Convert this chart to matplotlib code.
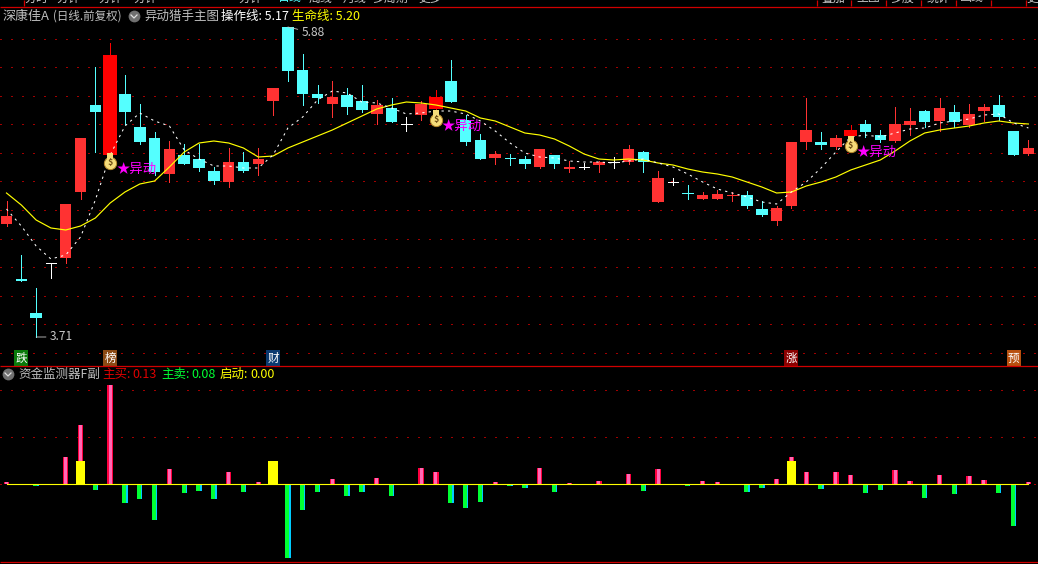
import numpy as np
import matplotlib
matplotlib.use("Agg")
import matplotlib.pyplot as plt

plt.rcParams['font.family'] = ['Noto Sans CJK SC', 'DejaVu Sans']

opens = [4.502,4.117,3.879,4.229,4.264,4.726,5.335,4.985,5.412,5.181,5.104,4.852,4.985,4.957,4.873,4.796,4.936,4.922,5.363,5.881,
         5.58,5.412,5.342,5.405,5.363,5.272,5.314,5.202,5.265,5.307,5.503,5.23,5.09,4.964,4.967,4.957,4.901,4.985,4.887,4.901,
         4.915,4.936,4.936,5.006,4.656,4.796,4.723,4.677,4.677,4.702,4.705,4.607,4.523,4.628,5.076,5.076,5.041,5.118,5.202,5.125,
         5.083,5.195,5.293,5.223,5.286,5.195,5.293,5.335,5.153,4.992]
closes = [4.558,4.103,3.844,4.229,4.642,5.104,5.286,5.685,5.286,5.076,4.866,5.027,4.922,4.894,4.803,4.936,4.873,4.957,5.454,5.573,
          5.412,5.384,5.391,5.321,5.3,5.335,5.216,5.202,5.342,5.391,5.356,5.076,4.957,4.992,4.96,4.922,5.027,4.922,4.901,4.901,
          4.936,4.936,5.027,4.936,4.824,4.796,4.716,4.705,4.712,4.705,4.628,4.565,4.614,5.076,5.16,5.055,5.104,5.16,5.146,5.09,
          5.202,5.223,5.216,5.314,5.216,5.272,5.321,5.251,4.985,5.034]
highs = [4.663,4.285,4.054,4.229,4.642,5.104,5.601,5.769,5.545,5.342,5.146,5.083,5.062,5.062,4.901,5.034,5.006,5.034,5.454,5.881,
         5.692,5.475,5.503,5.454,5.475,5.37,5.384,5.251,5.363,5.44,5.65,5.265,5.132,5.013,4.992,4.978,5.027,4.985,4.943,4.929,
         4.943,4.971,5.055,5.013,4.873,4.824,4.775,4.726,4.74,4.726,4.733,4.663,4.628,5.076,5.384,5.146,5.125,5.195,5.23,5.16,
         5.321,5.314,5.3,5.384,5.335,5.342,5.342,5.405,5.153,5.09]
lows = [4.488,4.103,3.711,4.124,4.229,4.677,5.006,4.985,5.202,5.062,4.845,4.796,4.922,4.873,4.782,4.761,4.866,4.845,5.265,5.503,
        5.335,5.349,5.251,5.272,5.286,5.202,5.216,5.153,5.23,5.307,5.356,5.055,4.957,4.922,4.915,4.894,4.894,4.894,4.866,4.887,
        4.866,4.894,4.922,4.866,4.656,4.775,4.677,4.677,4.677,4.663,4.614,4.558,4.495,4.614,5.027,5.027,5.027,5.118,5.111,5.076,
        5.076,5.125,5.181,5.153,5.181,5.181,5.223,5.23,4.985,4.985]
life_line = [4.719,4.635,4.53,4.474,4.46,4.488,4.544,4.649,4.726,4.782,4.803,4.901,5.006,5.069,5.083,5.069,5.034,4.971,4.978,5.034,
             5.076,5.118,5.16,5.209,5.258,5.307,5.335,5.356,5.349,5.335,5.314,5.293,5.244,5.223,5.181,5.139,5.125,5.097,5.048,4.992,
             4.957,4.95,4.957,4.95,4.929,4.915,4.887,4.866,4.852,4.831,4.796,4.761,4.719,4.726,4.768,4.796,4.831,4.88,4.915,4.95,
             5.013,5.083,5.139,5.16,5.174,5.188,5.209,5.223,5.209,5.202]
op_line = [4.607,4.488,4.348,4.257,4.285,4.411,4.67,4.985,5.188,5.279,5.223,5.188,5.02,4.957,4.908,4.908,4.894,4.894,4.985,5.174,
           5.251,5.37,5.433,5.419,5.356,5.349,5.314,5.272,5.279,5.293,5.293,5.272,5.223,5.153,5.069,4.999,4.971,4.964,4.943,4.936,
           4.936,4.929,4.943,4.957,4.929,4.901,4.852,4.796,4.747,4.719,4.691,4.656,4.642,4.726,4.796,4.894,5.006,5.111,5.125,5.111,
           5.139,5.167,5.174,5.209,5.223,5.237,5.265,5.272,5.209,5.174]
grid_prices = [5.8,5.6,5.4,5.2,5.0,4.8,4.6,4.4,4.2,4.0,3.8,3.6]
signal_idx = [7,29,57]
signal_price = [4.929,5.23,5.048]
badge_idx = [1,7,18,53,68]
badge_text = ['跌','榜','财','涨','预']
badge_color = ['#0A7A0A','#8B4A14','#0A3A70','#8B0000','#B8500F']

money = [.15,-.06,-.13,0,1.72,3.77,-.36,6.32,-1.19,-.94,-2.28,.98,-.56,-.43,-.94,.78,-.49,.13,0,-4.70,
         -1.64,-.49,.34,-.75,-.49,.40,-.75,0,1.04,.78,-1.19,-1.51,-1.13,.15,-.10,-.24,1.04,-.49,.08,0,
         .21,0,.66,-.43,.98,0,-.10,.21,.15,0,-.49,-.24,.34,1.74,.78,-.30,.78,.59,-.56,-.36,
         .91,.21,-.87,.59,-.62,.53,.27,-.56,-2.66,.13]
start_idx = [5,18,53]
start_val = [1.47,1.47,1.47]
sub_grid = [3,6]

BG='black'; RED='#FF3232'; CYAN='#54FFFF'; PURE='#FF0000'; YEL='#FFFF00'; GRID='#A00000'; RULE='#D00000'
W,H=1038,564
PX=14.81
X0=6.5
fig=plt.figure(figsize=(W/100,H/100),dpi=100,facecolor=BG)
xlim=((0-X0)/PX,(W-X0)/PX)
main=fig.add_axes([0,(H-365)/H,1,365/H],facecolor=BG)
main.set_xlim(*xlim); main.set_ylim(6.07-365*0.007,6.07); main.axis('off')
sub=fig.add_axes([0,0,1,(H-365)/H],facecolor=BG)
sub.set_xlim(*xlim); sub.set_ylim(-(564-484.3)/15.67,(484.3-365)/15.67); sub.axis('off')
top=fig.add_axes([0,0,1,1]); top.set_xlim(0,W); top.set_ylim(H,0); top.axis('off'); top.patch.set_alpha(0)

THIN=.6
dot=(0,(1.6,11))
for g in grid_prices:
    main.plot(xlim,[g,g],color=GRID,lw=THIN,ls=dot,zorder=1,antialiased=False)
for g in sub_grid+[0]:
    sub.plot(xlim,[g,g],color=GRID,lw=THIN,ls=dot,zorder=1,antialiased=False)

xs=np.arange(len(opens))
for i,(o,h,l,c) in enumerate(zip(opens,highs,lows,closes)):
    if c==o: col='white'
    elif c>o: col=RED
    else: col=CYAN
    wide=i in signal_idx
    if wide: col=PURE
    main.vlines(i,l,h,color=col,lw=THIN,zorder=2,antialiased=False)
    if abs(c-o)<0.009:
        main.hlines((o+c)/2,i-5.4/PX,i+5.4/PX,color=col,lw=THIN,zorder=3,antialiased=False)
    else:
        wd=(13.5 if wide else 11.5)/PX
        main.bar(i,c-o,bottom=o,width=wd,color=col,lw=0,zorder=3,antialiased=False)
main.plot(xs,life_line,color=YEL,lw=.85,zorder=5,antialiased=True,solid_joinstyle='miter')
main.plot(xs,op_line,color='white',lw=.75,ls=(0,(2.2,4)),zorder=5,antialiased=True)

# price extremes
grey='#C8C8C8'
imax=int(np.argmax(highs)); imin=int(np.argmin(lows))
main.annotate(f'{max(highs):.2f}',xy=(imax,max(highs)),xytext=(14,-6),textcoords='offset pixels',color=grey,fontsize=8.6,va='center',
              arrowprops=dict(arrowstyle='-',color=grey,lw=.6,shrinkA=1,shrinkB=0),zorder=8)
main.annotate(f'{min(lows):.2f}',xy=(imin,min(lows)),xytext=(14,0),textcoords='offset pixels',color=grey,fontsize=8.6,va='center',
              arrowprops=dict(arrowstyle='-',color=grey,lw=.6,shrinkA=1,shrinkB=0),zorder=8)

# signal markers
for i,p in zip(signal_idx,signal_price):
    main.scatter([i],[p],s=78,marker='o',color='#F6DC7A',edgecolors='#B8892A',linewidths=.7,zorder=7)
    main.annotate('$',xy=(i,p),ha='center',va='center',fontsize=6.5,color='#6B4A12',fontweight='bold',zorder=8)
    main.scatter([i],[p+0.05],s=16,marker='s',color='#F6DC7A',linewidths=0,zorder=7)
    main.annotate('★异动',xy=(i,p),xytext=(6,-6),textcoords='offset pixels',color='#FF00FF',fontsize=9.6,ha='left',va='center',zorder=8)

# badges
for i,t,c in zip(badge_idx,badge_text,badge_color):
    main.annotate(t,xy=(i,3.564),ha='center',va='center',color='white',fontsize=8.4,zorder=8,
                  bbox=dict(boxstyle='square,pad=0.1',fc=c,ec='none'))

# lower panel
for i,v in enumerate(money):
    if v>0:
        sub.bar(i,v,width=5.4/PX,color='#FF0040',lw=0,zorder=3,antialiased=False)
        sub.bar(i,v,width=3/PX,color='#FF69B4',lw=0,zorder=4,antialiased=False)
    elif v<0:
        sub.bar(i,v,width=5.4/PX,color='#00CCFF',lw=0,zorder=3,antialiased=False)
        sub.bar(i-.7/PX,v,width=4/PX,color='#00FF33',lw=0,zorder=4,antialiased=False)
sub.bar(start_idx,start_val,width=9.4/PX,color=YEL,lw=0,zorder=5,antialiased=False)
sub.plot([0,len(money)-1],[0,0],color=YEL,lw=.8,zorder=6,antialiased=True)

# chrome
for y in (6.5,365.5,561.5):
    top.plot([0,W],[y,y],color=RULE,lw=.9,antialiased=True,solid_capstyle='butt',zorder=10)
for x in (23.5,816.5,850.5,885.5,920.5,955.5,990.5,1025.5):
    top.plot([x,x],[0,6],color=RULE,lw=.9,antialiased=True,solid_capstyle='butt',zorder=10)
for x,t in [(36,'分时'),(68,'分钟'),(110,'分钟'),(145,'分钟'),(250,'分钟'),(290,'日线'),(320,'周线'),(355,'月线'),(390,'多周期'),(430,'更多'),
            (833,'叠加'),(868,'主图'),(902,'多股'),(938,'统计'),(972,'画线'),(1032,'更')]:
    top.text(x,-2,t,color='#C8C8C8' if t!='日线' else '#54FFFF',fontsize=8.6,ha='center',va='center',clip_on=True)

def label(x,y,t,c,fs=9):
    top.text(x,y,t,color=c,fontsize=fs,ha='left',va='center')
def icon(x,y):
    top.scatter([x],[y],s=72,color='#707070',linewidths=0,zorder=5)
    top.plot([x-3,x,x+3],[y-1,y+2,y-1],color='#E0E0E0',lw=.9,zorder=6)
G2='#BEBEBE'
label(3,16.5,'深康佳A',G2,9.4)
label(53,16.5,'(日线.前复权)',G2,8.3)
icon(134,16)
label(144,16.5,'异动猎手主图',G2)
label(221,16.5,'操作线: 5.17','white')
label(292,16.5,'生命线: 5.20',YEL)
icon(8,374)
label(18,374.5,'资金监测器F副',G2)
label(102,374.5,'主买:','#E00000')
label(132,374.5,'0.13','#E00000')
label(161,374.5,'主卖:','#00FF33')
label(191,374.5,'0.08','#00FF33')
label(220,374.5,'启动:',YEL)
label(250,374.5,'0.00',YEL)

fig.savefig('out.png',dpi=100,facecolor=BG)
